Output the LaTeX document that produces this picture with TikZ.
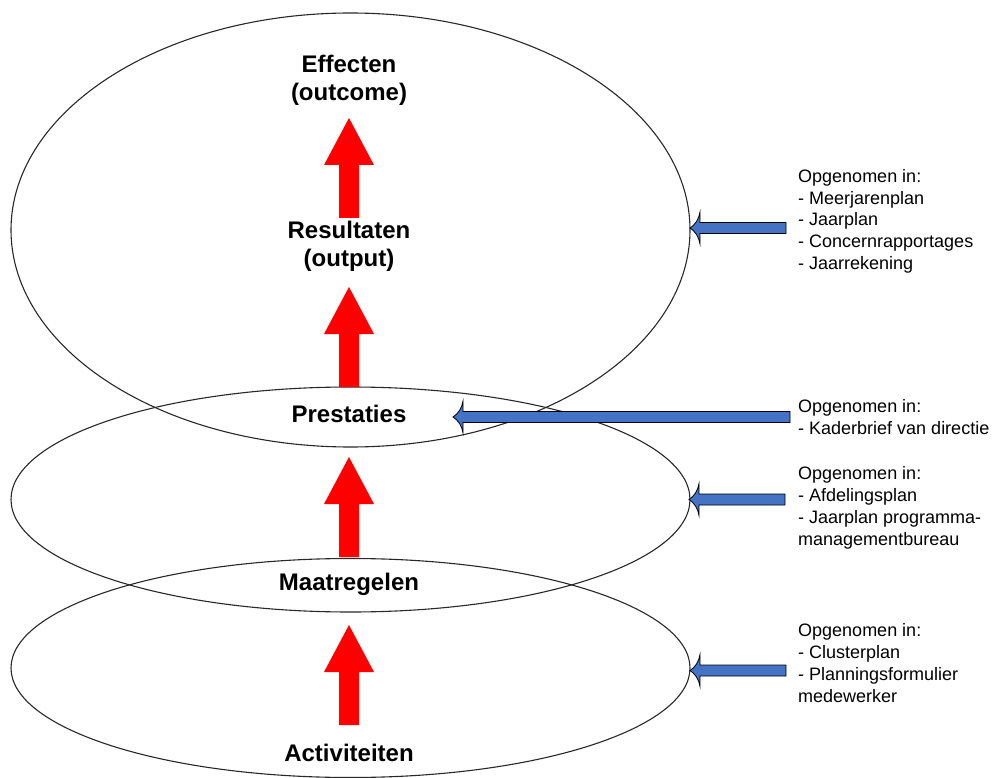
\documentclass[tikz,border=0pt]{standalone}
\usepackage{fontspec}
\setmainfont{Liberation Sans}
\definecolor{arrowblue}{RGB}{68,114,196}
\definecolor{ringgray}{RGB}{40,40,40}
\begin{document}
\begin{tikzpicture}[x=1pt,y=-1pt,
  ring/.style={draw=ringgray, line width=1.1pt},
  lbl/.style={font=\fontsize{24}{28}\selectfont\bfseries, align=center, inner sep=0pt},
  note/.style={font=\fontsize{18}{22}\selectfont, align=left, inner sep=0pt, anchor=base west},
  redarr/.pic={\fill[red] (0,0) -- (25,47) -- (10,47) -- (10,100) -- (-10,100) -- (-10,47) -- (-25,47) -- cycle;},
  bluearr/.pic={\filldraw[fill=arrowblue, draw=black, line width=0.8pt, line join=miter]
     (0,0) .. controls (5,-3) and (9,-9) .. (10,-16) -- (10,-5.5) -- (#1,-5.5) -- (#1,5.5) -- (10,5.5) -- (10,16) .. controls (9,9) and (5,3) .. (0,0) -- cycle;},
]
\useasboundingbox (0,0) rectangle (994,778);

% ellipses
\draw[ring] (350.5,230) ellipse [x radius=339.5pt, y radius=217pt];
\draw[ring] (350.5,499.5) ellipse [x radius=339.5pt, y radius=112.5pt];
\draw[ring] (350.5,668) ellipse [x radius=339.5pt, y radius=109.5pt];

% red arrows
\pic (r1) at (349,118) {redarr};
\pic (r2) at (349,287) {redarr};
\pic (r3) at (349,457) {redarr};
\pic (r4) at (349,625) {redarr};

% blue arrows
\pic (b1) at (690,228) {bluearr=96};
\pic (b2) at (453,417) {bluearr=337};
\pic (b3) at (689,499.5) {bluearr=96};
\pic (b4) at (690,670.5) {bluearr=96};

% labels
\node[lbl] (eff) at (349,80) {Effecten\\(outcome)};
\node[lbl] (res) at (349,246) {Resultaten\\(output)};
\node[lbl, anchor=base] (pre) at (349,422) {Prestaties};
\node[lbl, anchor=base] (maa) at (349,590) {Maatregelen};
\node[lbl, anchor=base] (act) at (349,761) {Activiteiten};

% notes (anchor = baseline of last line)
\node[note] (n1) at (798,270) {Opgenomen in:\\- Meerjarenplan\\- Jaarplan\\- Concernrapportages\\- Jaarrekening};
\node[note] (n2) at (798,434) {Opgenomen in:\\- Kaderbrief van directie};
\node[note] (n3) at (798,545) {Opgenomen in:\\- Afdelingsplan\\- Jaarplan programma-\\managementbureau};
\node[note] (n4) at (798,702) {Opgenomen in:\\- Clusterplan\\- Planningsformulier\\medewerker};
\end{tikzpicture}
\end{document}
